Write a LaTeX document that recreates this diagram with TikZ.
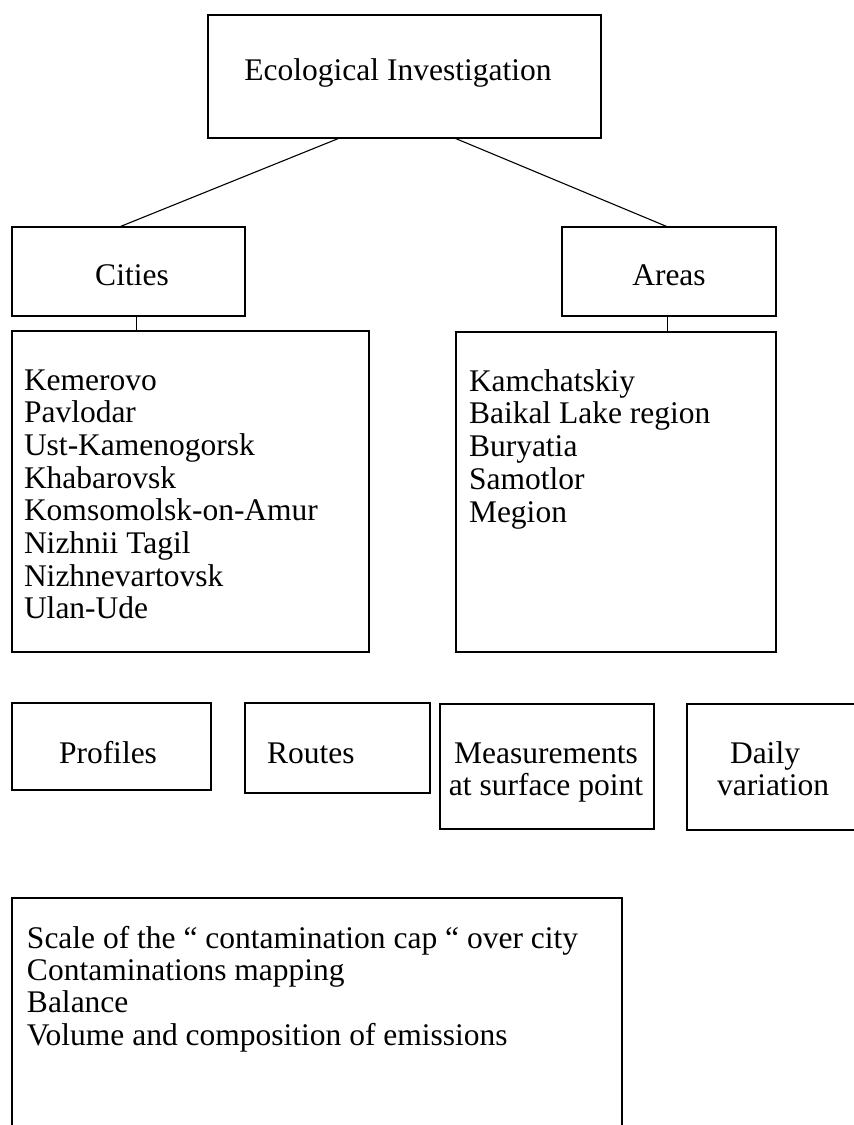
\documentclass[tikz,border=0pt]{standalone}
\usepackage{fontspec}
\setmainfont{Liberation Serif}
\usetikzlibrary{calc}
\tikzset{
  box/.style={draw, line width=1.1pt, inner sep=0pt, outer sep=0pt, anchor=north west},
  txt/.style={inner sep=0pt, outer sep=0pt, font=\fontsize{31.5}{33}\selectfont},
  link/.style={line width=1.1pt},
}
\begin{document}
\begin{tikzpicture}[x=1pt,y=-1pt]
\clip (0,0) rectangle (854,1125);
\fill[white] (0,0) rectangle (854,1125);
% boxes
\node[box, minimum width=393pt, minimum height=123pt] (eco) at (208,15) {};
\node[box, minimum width=233pt, minimum height=89pt] (cities) at (12,227) {};
\node[box, minimum width=214pt, minimum height=89pt] (areas) at (562,227) {};
\node[box, minimum width=357pt, minimum height=321pt] (citylist) at (12,331) {};
\node[box, minimum width=320pt, minimum height=320pt] (arealist) at (456,332) {};
\node[box, minimum width=199pt, minimum height=87pt] (profiles) at (12,703) {};
\node[box, minimum width=185pt, minimum height=90pt] (routes) at (245,703) {};
\node[box, minimum width=214pt, minimum height=125pt] (meas) at (440,704) {};
\node[box, minimum width=190pt, minimum height=126pt] (daily) at (687,704) {};
\node[box, minimum width=610pt, minimum height=250pt] (result) at (12,898) {};
% texts
\node[txt, anchor=base] (ecot) at (398,80) {Ecological Investigation};
\node[txt, anchor=base] (citiest) at (132,285) {Cities};
\node[txt, anchor=base] (areast) at (669,285) {Areas};
\foreach \t [count=\i] in {Kemerovo, Pavlodar, Ust-Kamenogorsk, Khabarovsk, Komsomolsk-on-Amur, Nizhnii Tagil, Nizhnevartovsk, Ulan-Ude}
  \node[txt, anchor=base west] (city\i) at (24,{390+(\i-1)*32.7}) {\t};
\foreach \t [count=\i] in {Kamchatskiy, Baikal Lake region, Buryatia, Samotlor, Megion}
  \node[txt, anchor=base west] (area\i) at (469,{391+(\i-1)*32.8}) {\t};
\node[txt, anchor=base] (profilest) at (108,763) {Profiles};
\node[txt, anchor=base west] (routest) at (267,763) {Routes};
\node[txt, anchor=base] (meast1) at (546,763) {Measurements};
\node[txt, anchor=base] (meast2) at (546,795) {at surface point};
\node[txt, anchor=base] (dailyt1) at (765,763) {Daily};
\node[txt, anchor=base] (dailyt2) at (773,795) {variation};
\foreach \t [count=\i] in {Scale of the “ contamination cap “ over city, Contaminations mapping, Balance, Volume and composition of emissions}
  \node[txt, anchor=base west] (res\i) at (27,{948+(\i-1)*32.4}) {\t};
% connectors
\draw[link] ($(eco.south west)!0.335!(eco.south east)$) -- ($(cities.north west)!0.46!(cities.north east)$);
\draw[link] ($(eco.south west)!0.627!(eco.south east)$) -- ($(areas.north west)!0.495!(areas.north east)$);
\coordinate (cdrop) at ($(cities.south west)!0.536!(cities.south east)$);
\draw[link] (cdrop) -- (cdrop |- citylist.north);
\coordinate (adrop) at ($(areas.south west)!0.495!(areas.south east)$);
\draw[link] (adrop) -- (adrop |- arealist.north);
\end{tikzpicture}
\end{document}
